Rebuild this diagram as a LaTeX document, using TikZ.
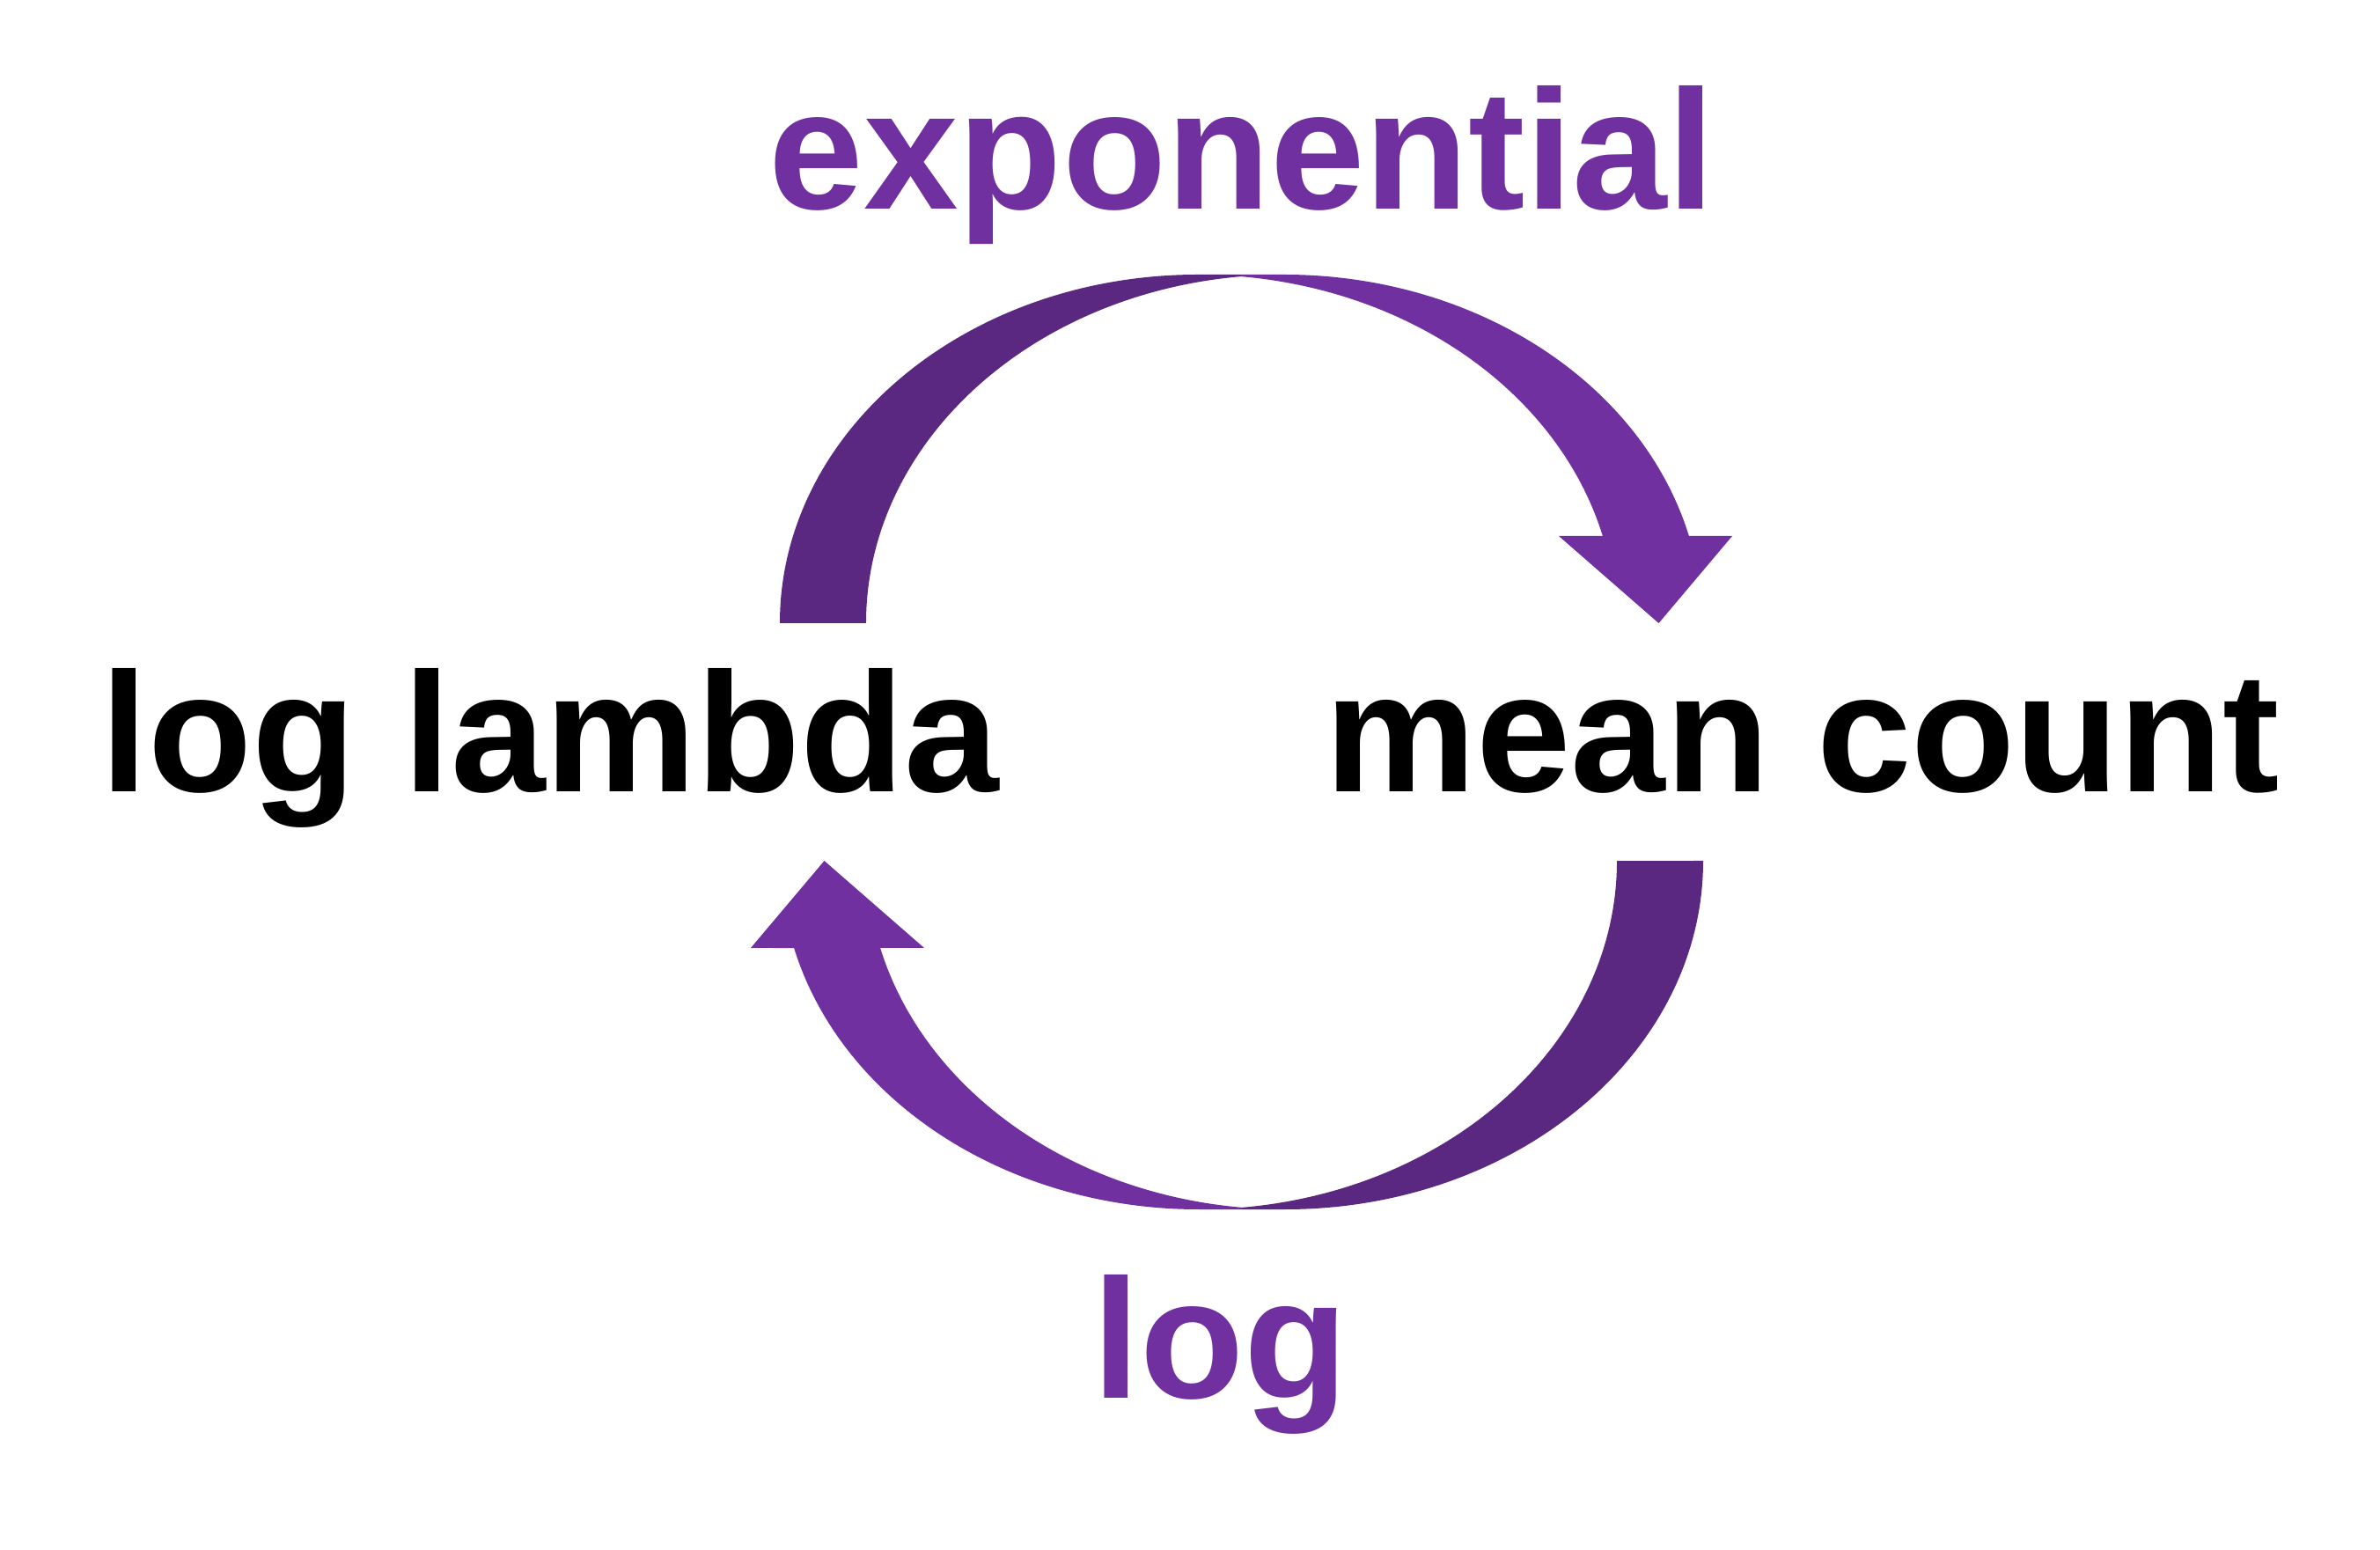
\documentclass[tikz,border=0pt]{standalone}
\usepackage{fontspec}
\setmainfont{Liberation Sans}
\definecolor{plight}{HTML}{7030A0}
\definecolor{pdark}{RGB}{91,40,129}
\tikzset{
  lbl/.style={font=\fontsize{55}{60}\selectfont\bfseries, inner sep=0pt, anchor=base},
  tailpart/.style={fill=pdark, draw=none},
  headpart/.style={fill=plight, draw=none},
}
\newcommand{\mycurvedarrow}{%
  % tail (darker) part
  \path[tailpart] (8.86,10.52)
    arc[start angle=180, end angle=90, x radius=4.75cm, y radius=3.96cm]
    -- (14.10,14.48) -- (14.10,14.459)
    arc[start angle=95.92, end angle=180, x radius=4.75cm, y radius=3.96cm]
    -- cycle;
  % head (lighter) part
  \path[headpart] (14.10,14.48) -- (14.59,14.48)
    arc[start angle=90, end angle=14.48, x radius=4.75cm, y radius=3.96cm]
    -- (19.68,11.51) -- (18.845,10.52) -- (17.71,11.51) -- (18.209,11.51)
    arc[start angle=14.48, end angle=84.08, x radius=4.75cm, y radius=3.96cm]
    -- cycle;
}
\begin{document}
\begin{tikzpicture}
\useasboundingbox (0,0) rectangle (27.04,17.60);
\fill[white] (0,0) rectangle (27.04,17.60);
% top arrow: log lambda -> mean count
\begin{scope}
\mycurvedarrow
\end{scope}
% bottom arrow: mean count -> log lambda (same shape turned half round)
\begin{scope}[rotate around={180:(14.105,9.17)}]
\mycurvedarrow
\end{scope}
\node[lbl, text=plight] (exp) at (14.11,15.22) {exponential};
\node[lbl, text=black] (loglambda) at (6.25,8.60) {log lambda};
\node[lbl, text=black] (meancount) at (20.48,8.60) {mean count};
\node[lbl, text=plight] (logl) at (13.865,1.72) {log};
\end{tikzpicture}
\end{document}
